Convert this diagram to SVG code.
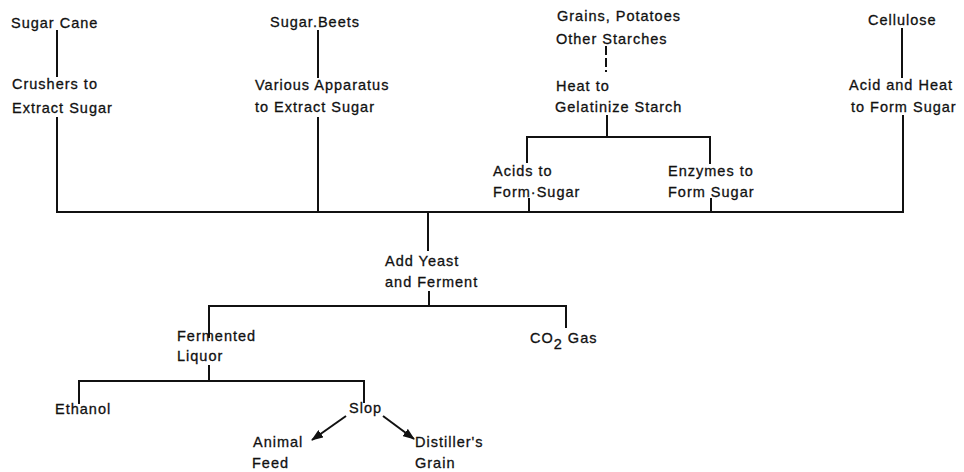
<svg xmlns="http://www.w3.org/2000/svg" width="964" height="472" viewBox="0 0 964 472">
  <style>
    text { font-family: "Liberation Sans", Arial, sans-serif; font-size: 14.5px; letter-spacing: 1px; fill: #111; stroke: #111; stroke-width: 0.3px; }
    .ln { stroke: #111; stroke-width: 2; fill: none; stroke-linecap: square; }
    .dash { stroke-dasharray: 9 3; stroke-linecap: butt; }
    .arr { stroke: #111; stroke-width: 2; fill: none; marker-end: url(#head); }
  </style>
  <defs>
    <marker id="head" viewBox="0 0 12 9" refX="11" refY="4.5" markerWidth="12" markerHeight="9" markerUnits="userSpaceOnUse" orient="auto">
      <path d="M0,0 L12,4.5 L0,9 Z" fill="#111"/>
    </marker>
  </defs>
  <rect width="964" height="472" fill="#fff"/>

  <g id="connectors">
    <!-- sugar cane branch -->
    <path class="ln" d="M57,31 V76"/>
    <path class="ln" d="M57,118 V212"/>
    <!-- sugar beets branch -->
    <path class="ln" d="M318,31 V77"/>
    <path class="ln" d="M318,118 V212"/>
    <!-- starch branch -->
    <path class="ln dash" d="M606,46 V72"/>
    <path class="ln" d="M607,116 V137"/>
    <path class="ln" d="M527,137 H710"/>
    <path class="ln" d="M527,137 V162"/>
    <path class="ln" d="M710,137 V163"/>
    <path class="ln" d="M529,199 V212"/>
    <path class="ln" d="M711,199 V212"/>
    <!-- cellulose branch -->
    <path class="ln" d="M902,29 V77"/>
    <path class="ln" d="M903,116 V212"/>
    <!-- collector line -->
    <path class="ln" d="M57,212 H903"/>
    <!-- fermentation -->
    <path class="ln" d="M428,212 V250"/>
    <path class="ln" d="M429,292 V306"/>
    <path class="ln" d="M209,306 H566"/>
    <path class="ln" d="M209,306 V337"/>
    <path class="ln" d="M566,306 V327"/>
    <!-- liquor split -->
    <path class="ln" d="M209,366 V381"/>
    <path class="ln" d="M79,381 H364"/>
    <path class="ln" d="M79,381 V403"/>
    <path class="ln" d="M364,381 V402"/>
    <!-- slop products -->
    <path class="arr" d="M346,416 L312,440"/>
    <path class="arr" d="M383,416 L414,439"/>
  </g>

  <g id="sugar-cane"><text x="11" y="28">Sugar Cane</text></g>
  <g id="crushers">
    <text x="12" y="89">Crushers to</text>
    <text x="12" y="113">Extract Sugar</text>
  </g>
  <g id="sugar-beets"><text x="270" y="27">Sugar.Beets</text></g>
  <g id="apparatus">
    <text x="255" y="90">Various Apparatus</text>
    <text x="255" y="112">to Extract Sugar</text>
  </g>
  <g id="starches">
    <text x="557" y="21">Grains, Potatoes</text>
    <text x="556" y="44">Other Starches</text>
  </g>
  <g id="gelatinize">
    <text x="556" y="91">Heat to</text>
    <text x="555" y="112">Gelatinize Starch</text>
  </g>
  <g id="acids">
    <text x="493" y="176">Acids to</text>
    <text x="493" y="197">Form·Sugar</text>
  </g>
  <g id="enzymes">
    <text x="668" y="176">Enzymes to</text>
    <text x="668" y="197">Form Sugar</text>
  </g>
  <g id="cellulose"><text x="868" y="25">Cellulose</text></g>
  <g id="acid-heat">
    <text x="849" y="90">Acid and Heat</text>
    <text x="851" y="112">to Form Sugar</text>
  </g>
  <g id="ferment">
    <text x="385" y="266">Add Yeast</text>
    <text x="385" y="287">and Ferment</text>
  </g>
  <g id="liquor">
    <text x="177" y="341">Fermented</text>
    <text x="177" y="361">Liquor</text>
  </g>
  <g id="co2">
    <text x="530" y="343">CO<tspan dy="6">2</tspan><tspan dy="-6"> Gas</tspan></text>
  </g>
  <g id="ethanol"><text x="55" y="414">Ethanol</text></g>
  <g id="slop"><text x="349" y="413">Slop</text></g>
  <g id="animal-feed">
    <text x="253" y="447">Animal</text>
    <text x="252" y="468">Feed</text>
  </g>
  <g id="distillers-grain">
    <text x="415" y="447">Distiller's</text>
    <text x="415" y="468">Grain</text>
  </g>
</svg>
